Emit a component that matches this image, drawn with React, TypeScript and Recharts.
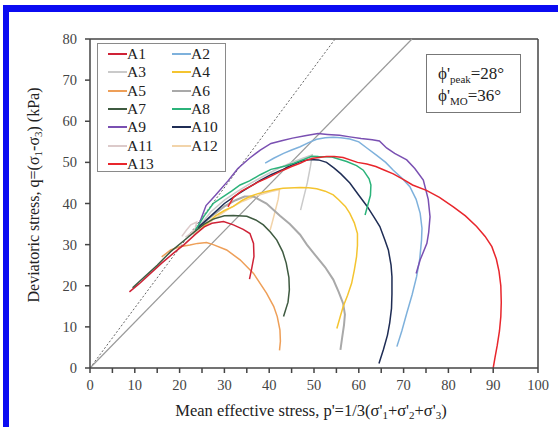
import React from 'react';
import { LineChart, Line, XAxis, YAxis, ReferenceLine } from 'recharts';

// stress paths, [p', q] in kPa
const A1 = [[8.8, 18.5], [11, 20.5], [13.5, 23], [16, 25.5], [18.5, 27.8], [21, 30], [23.5, 32.5], [25.5, 34.3], [27.2, 35.2], [29.8, 35.6], [32, 34.8], [34.2, 33.7], [35.7, 32.7], [36.5, 30.3], [36.6, 27.1], [36.1, 24.2], [35.6, 21.6]];
const A2 = [[39.1, 49.8], [41, 51], [43.2, 52.2], [45, 53], [46.9, 53.8], [48.8, 54.8], [50.6, 55.6], [52.5, 56], [54.3, 56.1], [56, 56], [58, 55.7], [60, 55], [61.8, 53.5], [64, 51.7], [66, 50], [67.7, 48.1], [69.6, 46.2], [71.4, 44.1], [72.8, 41], [73.7, 37.6], [74.1, 34], [74, 31.1], [73.6, 26.5], [72.9, 22.2], [71.9, 17.8], [70.7, 13.3], [69.6, 9], [68.5, 5.2]];
const A3 = [[24, 34], [27, 38], [30, 40.8], [33, 43], [36, 45], [39, 46.8], [42, 48.5], [45, 50], [47.5, 51], [49.6, 51.8], [49.2, 49], [48.5, 45], [47.7, 41.5], [47, 38.4]];
const A4 = [[24.5, 33.5], [26, 35], [28, 37], [30, 38.3], [32, 39.3], [34, 40.8], [35.7, 41.7], [37.5, 42.4], [39.4, 42.9], [41.3, 43.4], [43.1, 43.7], [46.9, 43.9], [48.8, 43.8], [50.6, 43.6], [52.5, 43], [54.3, 42.1], [55.5, 40.9], [57, 39.3], [58, 37.6], [59, 35.3], [59.7, 32.7], [59.7, 29.8], [59.5, 27.1], [59, 23.8], [58.4, 20.6], [57.5, 17.7], [56.5, 14.9], [55.8, 12.3], [55.1, 9.6]];
const A5 = [[16, 27], [18, 28.7], [20, 29.5], [22.3, 29.9], [24, 30.3], [26, 30.5], [27.5, 30], [30.5, 28.7], [33.5, 26.3], [36.5, 23], [39.4, 18.2], [41, 15], [41.8, 12.5], [42.4, 9.2], [42.5, 6.5], [42.3, 4.3]];
const A6 = [[24, 34], [27, 36.8], [30, 39.3], [32.5, 40.8], [34.5, 41.7], [36.5, 41.7], [39.4, 40], [42.4, 37], [44.6, 35], [46.9, 32.4], [48.4, 30], [50.6, 27], [52.5, 24.5], [54.3, 21.5], [55.5, 18.5], [56.5, 15.7], [56.9, 13], [56.7, 10.5], [56.3, 7.5], [55.9, 4.4]];
const A7 = [[9.5, 19.5], [12, 22], [15, 25], [18, 28.3], [21, 31], [23.5, 33.3], [25.5, 35], [27.5, 36.2], [30, 37], [32, 37.1], [35, 36.9], [37, 36], [38.7, 34.8], [40.3, 33], [41.7, 31.1], [43, 28.3], [43.8, 25.5], [44.4, 22], [44.5, 19], [44.2, 16], [43.2, 12.5]];
const A8 = [[23.5, 33.5], [25.5, 37], [27.5, 40], [29.5, 41.5], [31.6, 43], [33.5, 44.5], [35.6, 45.5], [38, 47], [40.4, 48.3], [42, 48.7], [43.6, 49.1], [45.5, 49.8], [47.7, 50.7], [49.5, 51.5], [51, 51.4], [54, 51.3], [57.3, 50.2], [59.5, 49.2], [61, 48.1], [62.3, 46], [62.7, 44.5], [62.6, 42], [62.1, 40], [61.4, 37.2]];
const A9 = [[24, 34], [25.9, 39.5], [28, 42], [30.8, 45.5], [33, 48.5], [35.6, 51], [38, 53], [40.4, 54.6], [43, 55.3], [45.2, 55.9], [48, 56.5], [50.9, 57], [53, 56.8], [55.7, 56.6], [58, 56.2], [60.5, 55.8], [63, 55.5], [64.6, 55.2], [66.2, 53.5], [68, 52.2], [70.7, 50.6], [72.5, 48.5], [74.4, 45.7], [75.5, 41], [75.9, 36.8], [75.6, 33], [75.2, 30.3], [73.7, 26.3], [72.8, 23]];
const A10 = [[24, 34], [27, 37], [30, 40], [33, 42.3], [35.7, 44.1], [38, 45.6], [40.4, 47], [43.1, 48.3], [45, 49.3], [46.9, 50.2], [49, 50.7], [51, 50.6], [52.8, 50], [54.5, 48.6], [56, 47.2], [58, 45], [60, 42], [61.8, 39.4], [63.5, 36.5], [64.7, 34.4], [65.8, 31.2], [66.6, 28.7], [67.2, 25], [67.4, 22.2], [67.4, 18], [67.3, 14.5], [66.9, 11], [66.4, 8], [65.5, 4.5], [64.5, 1.1]];
const A11 = [[20.5, 32], [21.5, 33.5], [22.5, 34.8], [23.8, 35.5], [23.5, 33.8], [22.5, 32.8], [21.3, 31.8]];
const A12 = [[23, 32.5], [25, 34], [28, 36.5], [31, 38.7], [34, 40.5], [37, 41.8], [40, 42.8], [42.3, 43.4], [42, 41], [41.3, 38], [40.7, 35.5], [40.2, 33.5]];
const A13 = [[30.8, 39.2], [32, 41.5], [33.8, 43], [35.7, 44.1], [37.5, 45.2], [39.4, 46.1], [41.2, 47.1], [43.1, 48.1], [45, 49], [46.9, 49.8], [48.5, 50.6], [49.8, 51], [52.8, 51.4], [54.5, 51.4], [56.5, 51.2], [59.7, 50], [61.8, 49.6], [63.8, 49], [65.5, 48.2], [67.7, 47.2], [70, 45.8], [72, 44.5], [75.1, 43.2], [78, 41.5], [81.1, 39.2], [83.8, 37], [86.3, 34.4], [88.2, 32], [89.7, 29.5], [90.7, 26.5], [91.3, 23.5], [91.7, 20], [91.8, 16], [91.7, 12.5], [91.4, 9], [90.9, 5.5], [90.4, 2.5], [90, 0]];

const xTicks = [0, 5, 10, 15, 20, 25, 30, 35, 40, 45, 50, 55, 60, 65, 70, 75, 80, 85, 90, 95, 100];
const yTicks = [0, 5, 10, 15, 20, 25, 30, 35, 40, 45, 50, 55, 60, 65, 70, 75, 80];

// critical state lines: M = 6 sin(phi) / (3 - sin(phi))
const slope = (deg: number) => {
  const s = Math.sin((deg * Math.PI) / 180);
  return (6 * s) / (3 - s);
};
const M_MO = slope(36);
const M_PEAK = slope(28);

const series = [
  { name: 'A1', data: A1, color: '#cf2236' },
  { name: 'A2', data: A2, color: '#7eb1dc' },
  { name: 'A3', data: A3, color: '#cacaca' },
  { name: 'A4', data: A4, color: '#f4c430' },
  { name: 'A5', data: A5, color: '#ee9f58' },
  { name: 'A6', data: A6, color: '#a9a9a9' },
  { name: 'A7', data: A7, color: '#3e5a40' },
  { name: 'A8', data: A8, color: '#2bb37a' },
  { name: 'A9', data: A9, color: '#7a50b2' },
  { name: 'A10', data: A10, color: '#1f2d55' },
  { name: 'A11', data: A11, color: '#dccaca' },
  { name: 'A12', data: A12, color: '#f2d4aa' },
  { name: 'A13', data: A13, color: '#e8262c' },
];
const drawOrder = ['A3', 'A11', 'A12', 'A6', 'A4', 'A2', 'A9', 'A10', 'A8', 'A13', 'A5', 'A1', 'A7'];

const toPts = (arr: number[][]) => arr.map(([p, q]) => ({ p, q }));
const serif = '"Liberation Serif", "Times New Roman", serif';

// only label every 10 kPa; minor ticks get no text
function SerifTick(props: any) {
  const { x, y, payload, textAnchor, orientation } = props;
  if (payload.value % 10 !== 0) return <g />;
  return (
    <text
      x={x}
      y={y}
      dy={orientation === 'bottom' ? '0.71em' : '0.35em'}
      textAnchor={textAnchor}
      fontFamily={serif}
      fontSize={14.5}
      fill="#444"
    >
      {payload.value}
    </text>
  );
}

export default function App() {
  return (
    <div style={{ position: 'absolute', left: 0, top: 0, width: 558, height: 427, background: '#fff', overflow: 'hidden', fontFamily: serif }}>
      <LineChart width={558} height={427} margin={{ top: 39, right: 20, bottom: 0, left: 0 }}>
        <XAxis
          type="number"
          dataKey="p"
          domain={[0, 100]}
          ticks={xTicks}
          allowDataOverflow
          tick={<SerifTick />}
          tickSize={5}
          tickMargin={7}
          height={59}
          stroke="#444"
          strokeWidth={1.5}
        />
        <YAxis
          type="number"
          dataKey="q"
          domain={[0, 80]}
          ticks={yTicks}
          allowDataOverflow
          tick={<SerifTick />}
          tickSize={5}
          tickMargin={8}
          width={90}
          stroke="#444"
          strokeWidth={1.5}
        />
        <ReferenceLine x={100} stroke="#444" strokeWidth={1.5} />
        <ReferenceLine y={80} stroke="#444" strokeWidth={1.5} />
        <ReferenceLine segment={[{ x: 0, y: 0 }, { x: 80 / M_MO, y: 80 }]} stroke="#666" strokeDasharray="2 2" strokeWidth={1} />
        <ReferenceLine segment={[{ x: 0, y: 0 }, { x: 80 / M_PEAK, y: 80 }]} stroke="#9a9a9a" strokeWidth={1.2} />
        {drawOrder.map((n) => {
          const s = series.find((d) => d.name === n)!;
          return (
            <Line
              key={n}
              data={toPts(s.data)}
              dataKey="q"
              type="linear"
              stroke={s.color}
              strokeWidth={n === 'A6' ? 2 : 1.5}
              dot={false}
              isAnimationActive={false}
            />
          );
        })}
      </LineChart>

      {/* axis titles */}
      <svg width={558} height={427} style={{ position: 'absolute', left: 0, top: 0, pointerEvents: 'none' }}>
        <text x={311} y={416} textAnchor="middle" fontFamily={serif} fontSize={16.5} fill="#222">
          Mean effective stress, p'=1/3(σ'<tspan dy={3} fontSize={11}>1</tspan>
          <tspan dy={-3}>+σ'</tspan><tspan dy={3} fontSize={11}>2</tspan>
          <tspan dy={-3}>+σ'</tspan><tspan dy={3} fontSize={11}>3</tspan>
          <tspan dy={-3}>)</tspan>
        </text>
        <text x={0} y={0} transform="translate(39,195) rotate(-90)" textAnchor="middle" fontFamily={serif} fontSize={16} fill="#222">
          Deviatoric stress, q=(σ<tspan dy={3} fontSize={11}>1</tspan>
          <tspan dy={-3}>-σ</tspan><tspan dy={3} fontSize={11}>3</tspan>
          <tspan dy={-3}>)  (kPa)</tspan>
        </text>
      </svg>

      {/* legend */}
      <div style={{ position: 'absolute', left: 97, top: 43, width: 129, height: 129, border: '1px solid #8a8a8a', background: '#fff', boxSizing: 'border-box' }}>
        {series.map((s, i) => {
          const row = Math.floor(i / 2);
          const col = i % 2;
          return (
            <div key={s.name} style={{ position: 'absolute', left: col === 0 ? 10 : 74, top: 1 + row * 18.3, height: 18, display: 'flex', alignItems: 'center' }}>
              <div style={{ width: 19, height: 2, background: s.color }} />
              <span style={{ fontSize: 15.5, color: '#222', lineHeight: '18px' }}>{s.name}</span>
            </div>
          );
        })}
      </div>

      {/* friction angles */}
      <div style={{ position: 'absolute', left: 426, top: 54, width: 95, height: 59, border: '1px solid #777', background: '#fff', boxSizing: 'border-box', fontFamily: serif, fontSize: 17, color: '#222' }}>
        <div style={{ position: 'absolute', left: 11, top: 9, whiteSpace: 'nowrap' }}>
          ϕ'<sub style={{ fontSize: 11 }}>peak</sub>=28°
        </div>
        <div style={{ position: 'absolute', left: 11, top: 31, whiteSpace: 'nowrap' }}>
          ϕ'<sub style={{ fontSize: 11 }}>MO</sub>=36°
        </div>
      </div>

      {/* blue frame */}
      <div style={{ position: 'absolute', left: 3, top: 5, width: 555, height: 7, background: '#0b0bf2' }} />
      <div style={{ position: 'absolute', left: 3, top: 5, width: 6, height: 422, background: '#0b0bf2' }} />
    </div>
  );
}
